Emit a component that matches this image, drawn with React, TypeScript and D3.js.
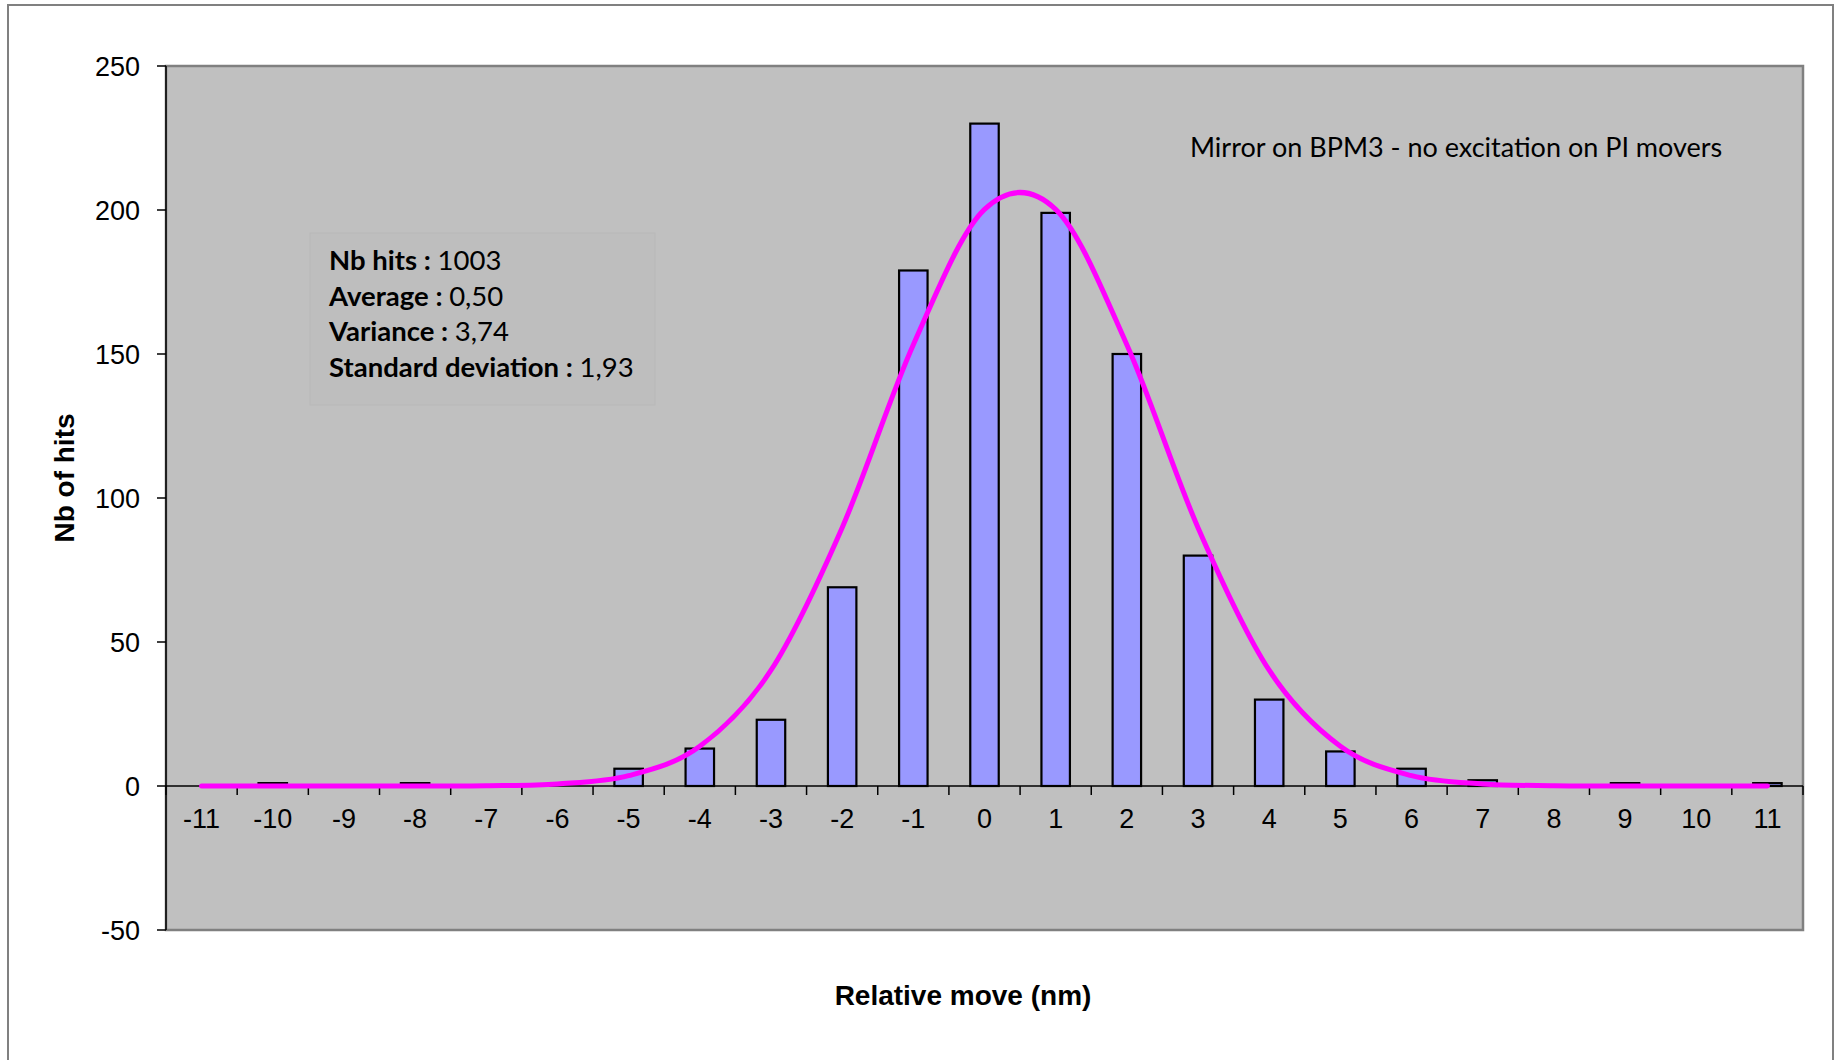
import React from "react";
import * as d3 from "d3";

// Histogram of relative moves (nm) and the fitted normal curve
const moves = [-11, -10, -9, -8, -7, -6, -5, -4, -3, -2, -1, 0, 1, 2, 3, 4, 5, 6, 7, 8, 9, 10, 11];
const hits = [0, 1, 0, 1, 0, 0, 6, 13, 23, 69, 179, 230, 199, 150, 80, 30, 12, 6, 2, 0, 1, 0, 1];
const gaussFit = [0, 0, 0, 0.01, 0.11, 0.73, 3.6, 13.8, 40.2, 89.7, 153.2, 200.2, 200.2, 153.2, 89.7, 40.2, 13.8, 3.6, 0.73, 0.11, 0.01, 0, 0];
const yTicks = [-50, 0, 50, 100, 150, 200, 250];

const statsLines = [
  { label: "Nb hits : ", value: "1003" },
  { label: "Average : ", value: "0,50" },
  { label: "Variance : ", value: "3,74" },
  { label: "Standard deviation : ", value: "1,93" },
];
const note = "Mirror on BPM3 - no excitation on PI movers";
const xTitle = "Relative move (nm)";
const yTitle = "Nb of hits";

export default function App() {
  const W = 1837;
  const H = 1060;
  const plot = { left: 166, top: 66, right: 1803, bottom: 930 };

  const x = d3
    .scaleBand<number>()
    .domain(moves)
    .range([plot.left, plot.right])
    .padding(0);
  const y = d3.scaleLinear().domain([-50, 250]).range([plot.bottom, plot.top]);
  const step = x.bandwidth();
  const barW = step * 0.4;
  const cx = (m: number) => (x(m) as number) + step / 2;

  const fitLine = d3
    .line<number>()
    .x((_, i) => cx(moves[i]))
    .y((d) => y(d))
    .curve(d3.curveCardinal.tension(0));

  const y0 = y(0);
  const axisFont = "'Liberation Sans', Arial, sans-serif";
  const textFont = "Lato, 'Open Sans', sans-serif";

  const boundaries = d3.range(moves.length + 1).map((i) => plot.left + i * step);

  return (
    <svg
      width={W}
      height={H}
      viewBox={`0 0 ${W} ${H}`}
      style={{ position: "absolute", left: 0, top: 0, display: "block", background: "#fff" }}
    >
      {/* chart frame */}
      <rect x={8} y={5} width={1825} height={1200} fill="#fff" stroke="#808080" strokeWidth={2} />

      {/* plot area */}
      <rect
        x={plot.left}
        y={plot.top}
        width={plot.right - plot.left}
        height={plot.bottom - plot.top}
        fill="#C0C0C0"
        stroke="#808080"
        strokeWidth={2.5}
      />

      {/* y axis */}
      <line x1={plot.left} x2={plot.left} y1={plot.top} y2={plot.bottom} stroke="#000" strokeWidth={1.5} />
      {yTicks.map((t) => (
        <g key={t}>
          <line x1={plot.left - 9} x2={plot.left} y1={y(t)} y2={y(t)} stroke="#000" strokeWidth={1.5} />
          <text
            x={140}
            y={y(t)}
            dy="0.36em"
            textAnchor="end"
            fontFamily={axisFont}
            fontSize={27}
            fill="#000"
          >
            {t}
          </text>
        </g>
      ))}

      {/* stats box */}
      <rect x={310} y={233} width={345} height={172} fill="#BEBEBE" stroke="#B8B8B8" strokeWidth={1} />
      {statsLines.map((s, i) => (
        <text key={s.label} x={329} y={270 + i * 35.5} fontFamily={textFont} fontSize={27.5} fill="#000">
          <tspan fontWeight="bold">{s.label}</tspan>
          <tspan>{s.value}</tspan>
        </text>
      ))}

      {/* annotation */}
      <text x={1190} y={157} fontFamily={textFont} fontSize={27} fill="#000">
        {note}
      </text>

      {/* bars */}
      {moves.map((m, i) =>
        hits[i] > 0 ? (
          <rect
            key={m}
            x={cx(m) - barW / 2}
            y={y(hits[i])}
            width={barW}
            height={y0 - y(hits[i])}
            fill="#9999FF"
            stroke="#000"
            strokeWidth={2.2}
          />
        ) : null
      )}

      {/* x axis line and ticks */}
      <line x1={plot.left} x2={plot.right} y1={y0} y2={y0} stroke="#000" strokeWidth={1.5} />
      {boundaries.map((bx, i) => (
        <line key={i} x1={bx} x2={bx} y1={y0} y2={y0 + 9} stroke="#000" strokeWidth={1.5} />
      ))}
      {moves.map((m) => (
        <text
          key={m}
          x={cx(m)}
          y={828}
          textAnchor="middle"
          fontFamily={axisFont}
          fontSize={27}
          fill="#000"
        >
          {m}
        </text>
      ))}

      {/* fitted normal curve */}
      <path d={fitLine(gaussFit) ?? ""} fill="none" stroke="#FF00FF" strokeWidth={5} strokeLinejoin="round" strokeLinecap="round" />

      {/* axis titles */}
      <text
        x={963}
        y={1005}
        textAnchor="middle"
        fontFamily={axisFont}
        fontWeight="bold"
        fontSize={28}
        fill="#000"
      >
        {xTitle}
      </text>
      <text
        transform={`translate(74, 478) rotate(-90)`}
        textAnchor="middle"
        fontFamily={axisFont}
        fontWeight="bold"
        fontSize={28}
        fill="#000"
      >
        {yTitle}
      </text>
    </svg>
  );
}
